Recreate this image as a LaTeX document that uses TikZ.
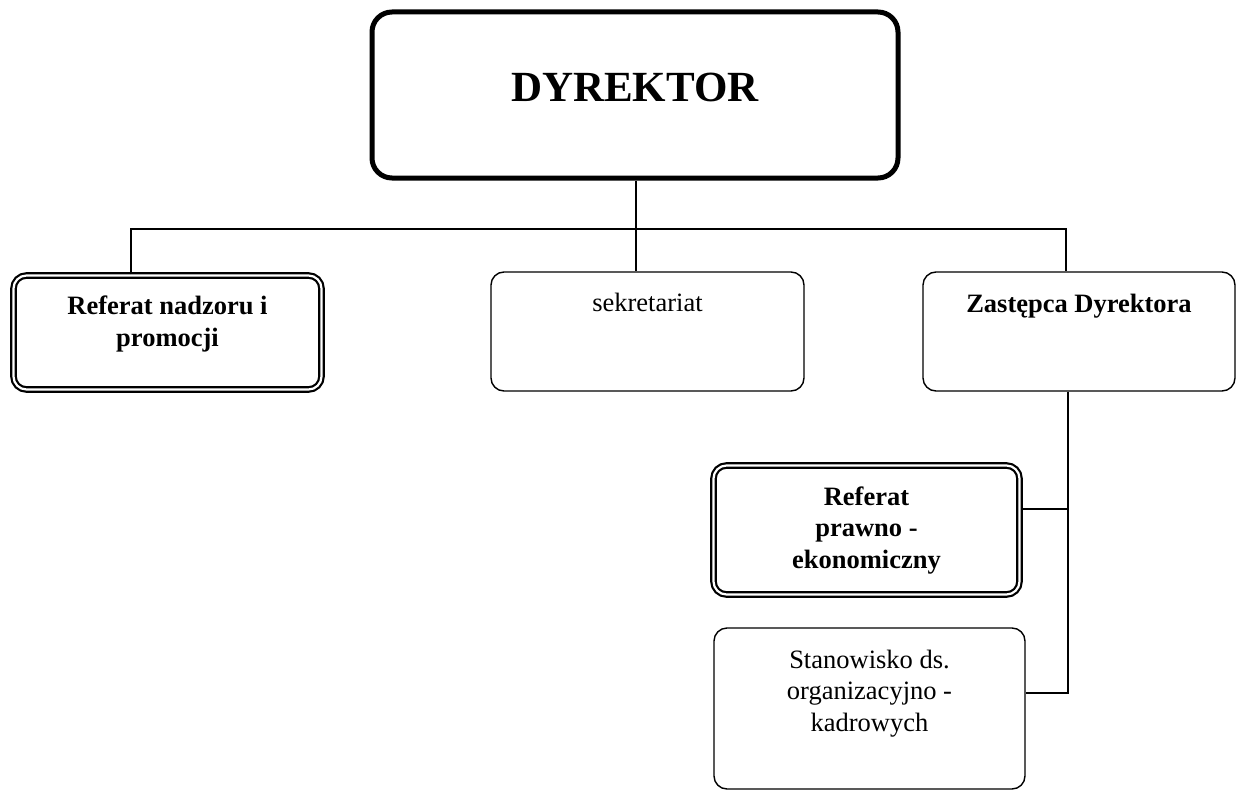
\documentclass[tikz,border=0pt]{standalone}
\usepackage{fontspec}
\setmainfont{Liberation Serif}
\begin{document}
\begin{tikzpicture}[x=1pt,y=-1pt,
  plainbox/.style={draw=black, line width=1.4pt, rounded corners=13pt, inner sep=0pt},
  dblbox/.style={draw=black, line width=2.2pt, double=white, double distance=2.2pt, rounded corners=13pt, inner sep=0pt},
  bossbox/.style={draw=black, line width=5pt, rounded corners=20pt, inner sep=0pt},
  conn/.style={draw=black, line width=1.4pt},
  txt/.style={anchor=base, align=center, inner sep=0pt, font=\fontsize{26.5}{31.5}\selectfont},
  txtb/.style={anchor=base, align=center, inner sep=0pt, font=\fontsize{26.5}{31.5}\selectfont\bfseries},
  txtbig/.style={anchor=base, align=center, inner sep=0pt, font=\fontsize{43}{50}\selectfont\bfseries}
]
\useasboundingbox (0,0) rectangle (1237,792);

% boxes
\node[bossbox, minimum width=526pt, minimum height=166pt] (dyr) at (635,95) {};
\node[dblbox, minimum width=308pt, minimum height=114pt] (ref1) at (167.5,332.5) {};
\node[plainbox, minimum width=313pt, minimum height=119pt] (sek) at (647.5,331.5) {};
\node[plainbox, minimum width=312pt, minimum height=119pt] (zas) at (1079,331.5) {};
\node[dblbox, minimum width=306pt, minimum height=129pt] (ref2) at (866.5,530) {};
\node[plainbox, minimum width=311pt, minimum height=161pt] (sta) at (869.5,708.5) {};

% connector points
\coordinate (hl) at (131,229);
\coordinate (hc) at (636,229);
\coordinate (hr) at (1066,229);
\coordinate (vm) at (1068,509);
\coordinate (vr) at (1068,693);

% connectors
\draw[conn] (dyr.south -| hc) -- (sek.north -| hc);
\draw[conn] (ref1.north -| hl) -- (hl) -- (hr) -- (zas.north -| hr);
\draw[conn] (zas.south -| vr) -- (vr) -- (vr -| sta.east);
\draw[conn] (vm) -- (vm -| ref2.east);

% texts
\node[txtbig] (dyrt) at (635,101) {DYREKTOR};
\node[txtb] (ref1t) at (167.5,346) {Referat nadzoru i\\promocji};
\node[txt] (sekt) at (647.5,311) {sekretariat};
\node[txtb] (zast) at (1079,312) {Zastępca Dyrektora};
\node[txtb] (ref2t) at (866.5,568) {Referat\\prawno -\\ekonomiczny};
\node[txt] (stat) at (869.5,731) {Stanowisko ds.\\organizacyjno -\\kadrowych};
\end{tikzpicture}
\end{document}
